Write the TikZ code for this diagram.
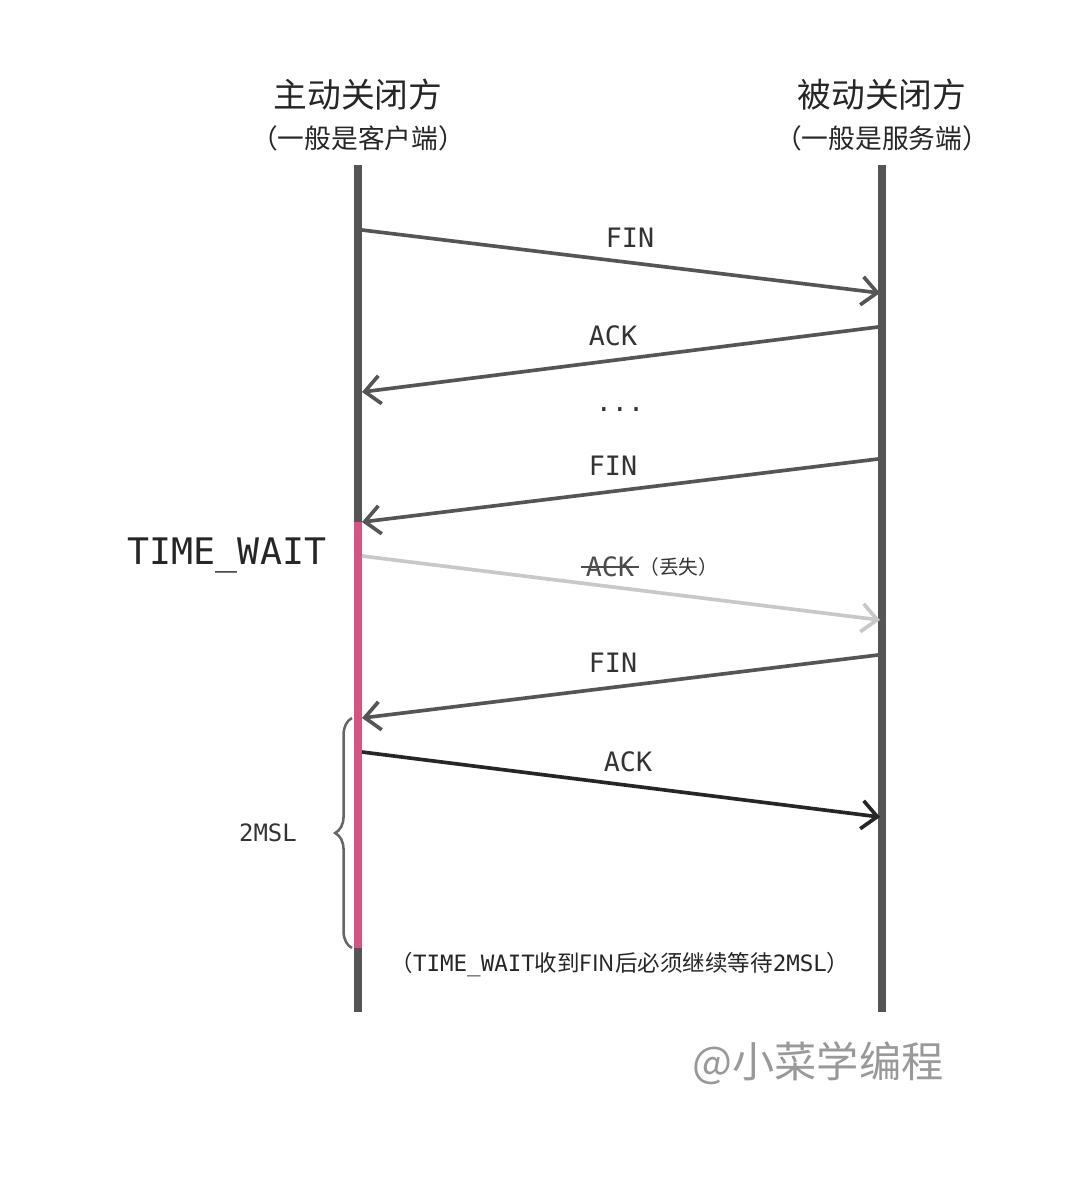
\documentclass[tikz,border=0pt]{standalone}
\usepackage{fontspec}
\setmonofont{DejaVu Sans Mono}
\newfontfamily\cjk{Noto Sans CJK SC}
\usetikzlibrary{arrows.meta,decorations.pathreplacing}
\definecolor{lifeline}{RGB}{85,85,85}
\definecolor{waitpink}{RGB}{214,84,130}
\definecolor{lostgray}{RGB}{200,200,200}
\tikzset{
  msg/.style={line width=2.6pt,color=lifeline,-{Straight Barb[length=11pt,width=20pt,line width=2.6pt]}},
  lbl/.style={font=\ttfamily\fontsize{19}{22}\selectfont,text=black!80},
  head/.style={font=\cjk\fontsize{24}{28}\selectfont,text=black!85},
  sub/.style={font=\cjk\fontsize{19}{22}\selectfont,text=black!85}
}
\begin{document}
\begin{tikzpicture}[x=0.025cm,y=-0.025cm]
  \useasboundingbox[fill=white] (0,0) rectangle (1080,1178);

  % headers
  \node[head] (act) at (358,95) {主动关闭方};
  \node[sub] (actsub) at (358,138) {（一般是客户端）};
  \node[head] (pas) at (882,95) {被动关闭方};
  \node[sub] (passub) at (882,138) {（一般是服务端）};

  % lifelines
  \coordinate (ltop) at (358,165);
  \coordinate (lbot) at (358,1012);
  \coordinate (rtop) at (882,165);
  \coordinate (rbot) at (882,1012);
  \draw[line width=5pt,lifeline] (ltop) -- (lbot);
  \draw[line width=5pt,lifeline] (rtop) -- (rbot);
  \coordinate (wtop) at (358,522);
  \coordinate (wbot) at (358,948);
  \draw[line width=5pt,waitpink] (wtop) -- (wbot);

  % messages
  \coordinate (a1) at (362,230); \coordinate (b1) at (880,293);
  \coordinate (a2) at (878,327); \coordinate (b2) at (362,392);
  \coordinate (a3) at (878,459); \coordinate (b3) at (362,522);
  \coordinate (a4) at (362,556); \coordinate (b4) at (880,620);
  \coordinate (a5) at (878,655); \coordinate (b5) at (362,718);
  \coordinate (a6) at (362,752); \coordinate (b6) at (880,817);
  \draw[msg] (a1) -- (b1);
  \draw[msg] (a2) -- (b2);
  \draw[msg] (a3) -- (b3);
  \draw[msg,color=lostgray] (a4) -- (b4);
  \draw[msg] (a5) -- (b5);
  \draw[msg,color=black!85] (a6) -- (b6);

  \node[lbl] (fin1) at (630,238) {FIN};
  \node[lbl] (ack1) at (613,336) {ACK};
  \node[lbl] (dots) at (620,410) {...};
  \node[lbl] (fin2) at (613,466) {FIN};
  \node[lbl,text=black!70] (ack2) at (610,567) {ACK};
  \draw[line width=1.2pt,black!70] (ack2.west) -- (ack2.east);
  \node[font=\cjk\fontsize{14}{16}\selectfont,text=black!80,anchor=west,inner sep=0pt] (lost) at (ack2.east) {（丢失）};
  \node[lbl] (fin3) at (613,663) {FIN};
  \node[lbl] (ack3) at (628,762) {ACK};

  \node[font=\ttfamily\fontsize{26}{30}\selectfont,text=black!85] (tw) at (227,555) {TIME\_WAIT};

  % 2MSL brace
  \coordinate (btop) at (352,718);
  \coordinate (bbot) at (352,948);
  \draw[line width=1.8pt,black!60,decorate,decoration={brace,amplitude=12pt}] (bbot) -- (btop);
  \node[lbl,font=\ttfamily\fontsize{17}{20}\selectfont] (msl) at (268,833) {2MSL};

  \node[font=\cjk\fontsize{16}{19}\selectfont,text=black!85] (note) at (620,965)
    {（{\ttfamily TIME\_WAIT}收到FIN后必须继续等待{\ttfamily 2MSL}）};

  \node[font=\cjk\fontsize{30}{34}\selectfont,text=black!40] (mark) at (818,1063) {@小菜学编程};
\end{tikzpicture}
\end{document}
